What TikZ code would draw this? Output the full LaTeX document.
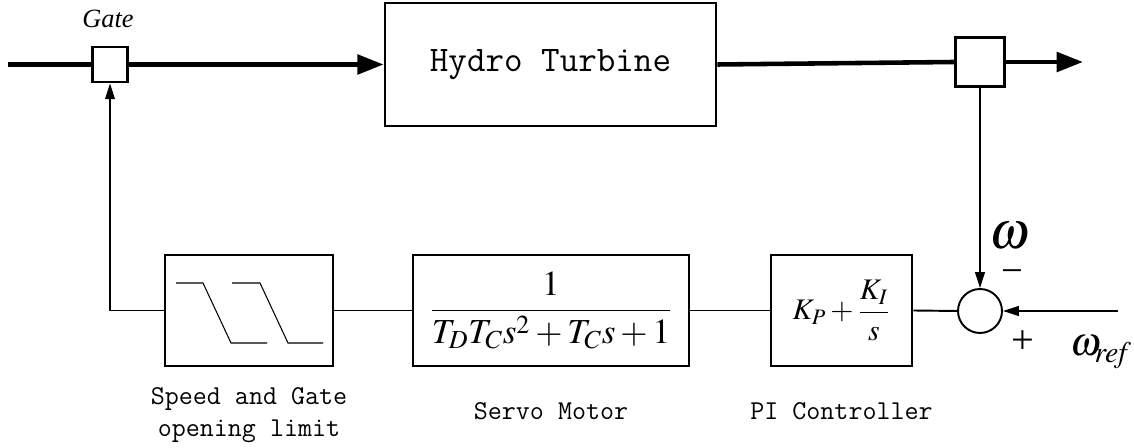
\documentclass[tikz,border=0pt]{standalone}
\usepackage{amsmath}
\usepackage{mathptmx}
\usepackage{fontspec}
\setmainfont{Liberation Serif}
\usetikzlibrary{arrows.meta, calc, positioning}

\begin{document}
\begin{tikzpicture}[x=0.02cm, y=-0.02cm,
        box/.style={draw, line width=1.6pt, inner sep=0pt, align=center},
        tap/.style={draw, line width=1.6pt, inner sep=0pt},
        mainsig/.style={line width=2.6pt},
        sig/.style={line width=1.1pt},
        bigtip/.style={-{Triangle[length=15pt, width=11pt]}},
        smalltip/.style={-{Triangle[length=9pt, width=5.5pt]}},
        caption/.style={font=\fontsize{15.5}{18}\selectfont\ttfamily, align=center}]

        \useasboundingbox (0,0) rectangle (1134,448);

        \node[tap, minimum size=0.7cm] (gate) at (110,64.5) {};
        \node[box, minimum width=6.62cm, minimum height=2.46cm,
              font=\fontsize{20.5}{24}\selectfont\ttfamily] (turb) at (550.5,64.5) {Hydro Turbine};
        \node[tap, minimum size=0.98cm] (meas) at (980,62) {};

        \node[box, minimum width=3.36cm, minimum height=2.22cm] (lim)   at (249,310.5) {};
        \node[box, minimum width=5.52cm, minimum height=2.22cm,
              font=\fontsize{20}{24}\selectfont] (servo) at (551,310.5) {$\dfrac{1}{T_D T_C s^2+T_C s+1}$};
        \node[box, minimum width=2.82cm, minimum height=2.22cm,
              font=\fontsize{17}{20}\selectfont] (pi)    at (841.5,310.5) {$K_P+\dfrac{K_I}{s}$};
        \node[draw, circle, line width=1.1pt, minimum size=0.88cm, inner sep=0pt] (sum) at (980,311) {};

        \coordinate (src)  at (8,64.5);
        \coordinate (dst)  at (1083,62);
        \coordinate (wsrc) at (1118,311);

        % water path
        \draw[mainsig] (src) -- (gate.west);
        \draw[mainsig, bigtip] (gate.east) -- (turb.west);
        \draw[mainsig] (turb.east) -- (meas.west);
        \draw[mainsig, bigtip] (meas.east) -- (dst);

        % control loop
        \draw[sig, smalltip] (meas.south) -- (sum.north);
        \draw[sig, smalltip] (wsrc) -- (sum.east);
        \draw[sig] (sum.west) -- (pi.east);
        \draw[sig] (pi.west) -- (servo.east);
        \draw[sig] (servo.west) -- (lim.east);
        \draw[sig, smalltip] (lim.west) -| (gate.south);

        % rate limit sketch
        \draw[line width=0.6pt] (176,283) -- (203,283) -- (231,343) -- (267,343);
        \draw[line width=0.6pt] (232,283) -- (260,283) -- (288,343) -- (323,343);

        \node[font=\fontsize{15}{18}\selectfont\itshape] (gatelbl) at (108,19) {Gate};
        \node[font=\fontsize{30}{36}\selectfont] (wlbl) at (1010,236) {$\omega$};
        \node[font=\fontsize{22}{26}\selectfont] (minus) at (1012,277) {−};
        \node[font=\fontsize{23}{26}\selectfont] (plus) at (1023,342) {+};
        \node[font=\fontsize{23}{26}\selectfont] (wreflbl) at (1101,352) {$\omega_{\!\mathit{ref}}$};

        \node[caption] (limlbl)   at (249,415)   {Speed and Gate\\opening limit};
        \node[caption] (servolbl) at (551,411)   {Servo Motor};
        \node[caption] (pilbl)    at (841.5,411) {PI Controller};
\end{tikzpicture}
\end{document}
